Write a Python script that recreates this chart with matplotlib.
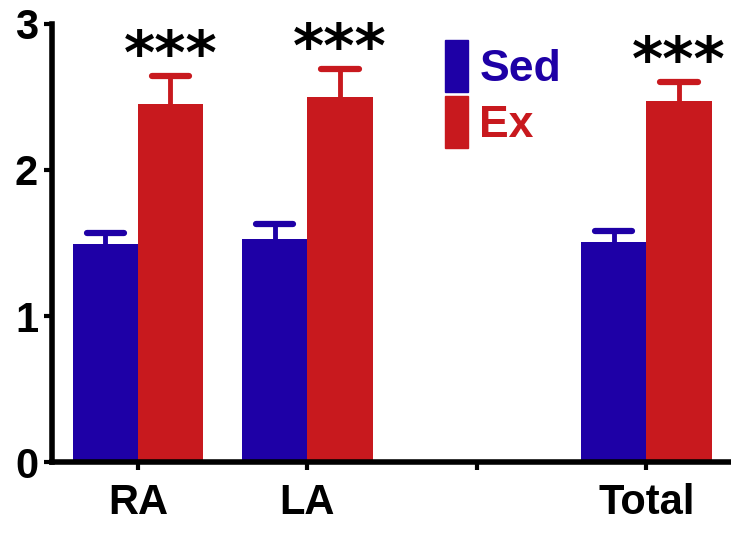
import matplotlib
matplotlib.use("Agg")
import matplotlib.pyplot as plt
from matplotlib.patches import Patch

categories = ["RA", "LA", "", "Total"]
sed_mean = [1.49, 1.53, None, 1.51]
sed_err = [0.08, 0.10, None, 0.07]
ex_mean = [2.45, 2.50, None, 2.47]
ex_err = [0.19, 0.19, None, 0.13]
stars = ["***", "***", "", "***"]

blue = "#1e00a6"
red = "#c8191e"

plt.rcParams['font.family'] = ['Liberation Sans', 'DejaVu Sans']
plt.rcParams['font.weight'] = 'bold'

fig = plt.figure(figsize=(7.31, 5.40), dpi=100)
ax = fig.add_axes([0.071, 0.144, 0.929, 0.812])

w = 0.385
cap = 0.11


def up_err(x, y, e, c):
    # one-sided (upper) error bar
    ax.vlines(x, y, y + e, color=c, lw=3.5, zorder=1)
    ax.hlines(y + e, x - cap, x + cap, color=c, lw=4.5, zorder=1, capstyle='round')


for i, cat in enumerate(categories):
    if sed_mean[i] is None:
        continue
    ax.bar(i - w / 2, sed_mean[i], w, color=blue, zorder=2)
    ax.bar(i + w / 2, ex_mean[i], w, color=red, zorder=2)
    up_err(i - w / 2, sed_mean[i], sed_err[i], blue)
    up_err(i + w / 2, ex_mean[i], ex_err[i], red)
    ax.text(i + w / 2, ex_mean[i] + ex_err[i] + 0.13, stars[i], ha='center',
            va='center', fontsize=43, fontweight='bold', family='DejaVu Sans',
            clip_on=False)

ax.set_xlim(-0.507, 3.5)
ax.set_ylim(0, 3)
ax.set_yticks([0, 1, 2, 3])
ax.set_xticks(range(len(categories)))
ax.set_xticklabels(categories)
ax.tick_params(axis='both', labelsize=30, width=3, length=6, pad=4)
ax.tick_params(axis='x', pad=9)
for s in ['top', 'right']:
    ax.spines[s].set_visible(False)
for s in ['left', 'bottom']:
    ax.spines[s].set_linewidth(4)

handles = [Patch(color=blue), Patch(color=red)]
leg = ax.legend(handles, ["Sed", "Ex"], loc='upper left',
                bbox_to_anchor=(445 / 731, 1 - 40 / 540), bbox_transform=fig.transFigure,
                frameon=False, fontsize=32, handlelength=0.52, handleheight=1.42,
                handletextpad=0.25, labelspacing=0.1, borderpad=0, borderaxespad=0,
                labelcolor=[blue, red])

fig.savefig("out.png", dpi=100)
